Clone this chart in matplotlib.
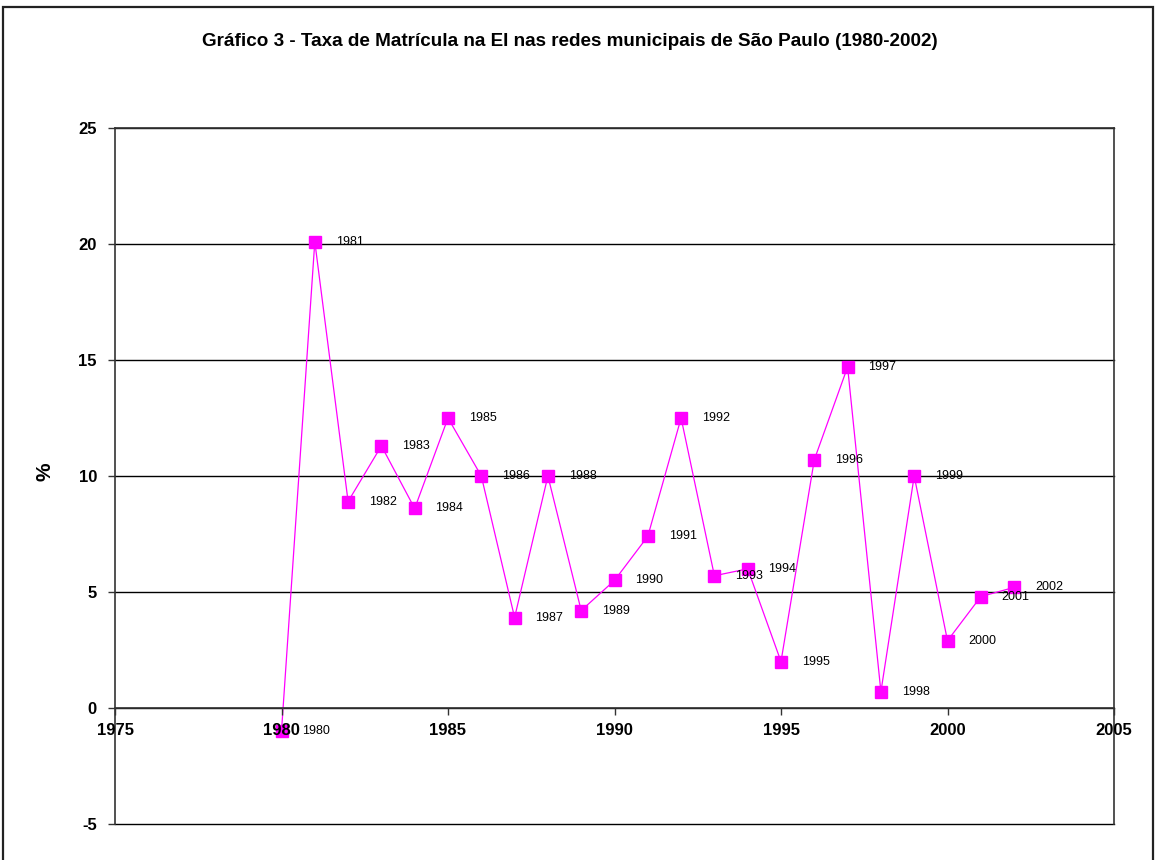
import matplotlib
matplotlib.use("Agg")
import matplotlib.pyplot as plt
from matplotlib.patches import Rectangle

plt.rcParams["font.family"] = ["Liberation Sans", "DejaVu Sans"]
plt.rcParams["axes.unicode_minus"] = False

# ---------------------------------------------------------------------------
# Data
# ---------------------------------------------------------------------------
years = [1980, 1981, 1982, 1983, 1984, 1985, 1986, 1987, 1988, 1989, 1990,
         1991, 1992, 1993, 1994, 1995, 1996, 1997, 1998, 1999, 2000, 2001, 2002]
taxa = [-1.0, 20.1, 8.9, 11.3, 8.6, 12.5, 10.0, 3.9, 10.0, 4.2, 5.5,
        7.4, 12.5, 5.7, 6.0, 2.0, 10.7, 14.7, 0.7, 10.0, 2.9, 4.8, 5.2]
point_labels = [str(y) for y in years]

x_ticks = [1975, 1980, 1985, 1990, 1995, 2000, 2005]
y_ticks = [-5, 0, 5, 10, 15, 20, 25]

TITLE = "Gráfico 3 - Taxa de Matrícula na EI nas redes municipais de São Paulo (1980-2002)"
MAGENTA = "#FF00FF"

# ---------------------------------------------------------------------------
# Plot
# ---------------------------------------------------------------------------
W, H = 1155, 860
fig = plt.figure(figsize=(W / 100, H / 100), dpi=100, facecolor="white")

# chart-area border (Excel style)
fig.patches.append(Rectangle((3 / W, -0.01), 1150 / W, 1.01 - 7 / H,
                             transform=fig.transFigure, fill=False,
                             edgecolor="#222222", linewidth=1.6))

ax = fig.add_axes([115 / W, 1 - 824 / H, (1114 - 115) / W, (824 - 128) / H])

# horizontal gridlines, including the plot-area edges at -5 and 25
for yv in y_ticks:
    ax.axhline(yv, color="black", linewidth=1.0, zorder=0, clip_on=False)

ax.plot(years, taxa, color=MAGENTA, linewidth=0.9, marker="s",
        markersize=8.6, markerfacecolor=MAGENTA, markeredgecolor=MAGENTA,
        zorder=2)

for x, y, lbl in zip(years, taxa, point_labels):
    ax.annotate(lbl, (x, y), xytext=(15, 0), textcoords="offset points",
                ha="left", va="center", fontsize=9, color="black", zorder=3)

ax.set_xlim(1975, 2005)
ax.set_ylim(-5, 25)
ax.set_xticks(x_ticks)
ax.set_yticks(y_ticks)
# tick labels sit on top of the series (the 1980 label covers its marker)
ax.set_axisbelow(False)

ax.spines["bottom"].set_position(("data", 0))
for side in ["left", "right", "top", "bottom"]:
    ax.spines[side].set_color("#333333")
    ax.spines[side].set_linewidth(1.2)

ax.tick_params(axis="y", direction="out", length=5, width=1.0,
               color="#333333", pad=8, labelsize=12)
ax.tick_params(axis="x", direction="out", length=5, width=1.0,
               color="#333333", pad=6, labelsize=12)
for lbl in ax.get_xticklabels() + ax.get_yticklabels():
    lbl.set_fontweight("bold")

fig.text(45 / W, 1 - 472 / H, "%", rotation=90, ha="center", va="center",
         fontsize=15, fontweight="bold")
fig.text(570 / W, 1 - 41 / H, TITLE, ha="center", va="center",
         fontsize=13.6, fontweight="bold")

fig.savefig("out.png", dpi=100, facecolor="white")
plt.close(fig)
